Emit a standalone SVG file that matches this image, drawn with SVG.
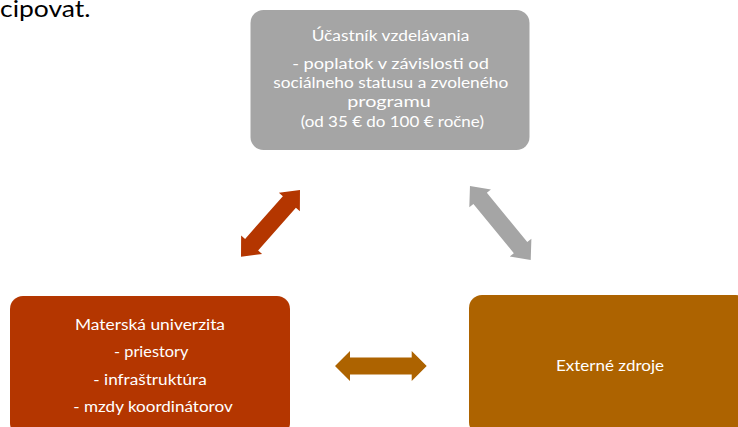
<svg xmlns="http://www.w3.org/2000/svg" width="738" height="427" viewBox="0 0 738 427">
  <style>
    .box-gray { fill: #a5a5a5; }
    .box-red { fill: #b43600; }
    .box-brown { fill: #ad6300; }
    .label { font-family: Lato, "Open Sans", "Liberation Sans", sans-serif; font-size: 15.5px; fill: #ffffff; text-anchor: middle; }
    .para { font-family: Lato, "Open Sans", "Liberation Sans", sans-serif; font-size: 24px; fill: #000000; }
  </style>
  <rect width="738" height="427" fill="#ffffff"/>
  <text class="para" x="0" y="16.7" textLength="90.5" lengthAdjust="spacingAndGlyphs">cipovat.</text>

  <g id="connectors">
    <polygon fill="#b43600" transform="translate(270.5 223.35) rotate(-48.5)" points="-44.5,0 -28.5,-14 -28.5,-8.7 28.5,-8.7 28.5,-14 44.5,0 28.5,14 28.5,8.7 -28.5,8.7 -28.5,14"/>
    <polygon fill="#a5a5a5" transform="translate(500.35 223) rotate(50.6)" points="-47.85,0 -31.85,-14 -31.85,-8.7 31.85,-8.7 31.85,-14 47.85,0 31.85,14 31.85,8.7 -31.85,8.7 -31.85,14"/>
    <polygon fill="#ad6300" transform="translate(380.85 366)" points="-45.85,0 -30.85,-15 -30.85,-8.5 30.85,-8.5 30.85,-15 45.85,0 30.85,15 30.85,8.5 -30.85,8.5 -30.85,15"/>
  </g>

  <g id="node-ucastnik">
    <rect class="box-gray" x="250.5" y="10" width="279" height="140" rx="13" ry="13"/>
    <text class="label" x="390.5" y="40.7" textLength="157.6" lengthAdjust="spacingAndGlyphs">Účastník vzdelávania</text>
    <text class="label" x="390.5" y="69.3" textLength="196.7" lengthAdjust="spacingAndGlyphs">- poplatok v závislosti od</text>
    <text class="label" x="390.8" y="88.3" textLength="235" lengthAdjust="spacingAndGlyphs">sociálneho statusu a zvoleného</text>
    <text class="label" x="389" y="107.3" textLength="83.4" lengthAdjust="spacingAndGlyphs">programu</text>
    <text class="label" x="392.3" y="126.7" textLength="183.3" lengthAdjust="spacingAndGlyphs">(od 35 € do 100 € ročne)</text>
  </g>

  <g id="node-univerzita">
    <rect class="box-red" x="10" y="296" width="280" height="140" rx="13" ry="13"/>
    <text class="label" x="150" y="330" textLength="150" lengthAdjust="spacingAndGlyphs">Materská univerzita</text>
    <text class="label" x="151.2" y="356.7" textLength="74.3" lengthAdjust="spacingAndGlyphs">- priestory</text>
    <text class="label" x="150" y="385" textLength="113.4" lengthAdjust="spacingAndGlyphs">- infraštruktúra</text>
    <text class="label" x="153" y="411.7" textLength="159.4" lengthAdjust="spacingAndGlyphs">- mzdy koordinátorov</text>
  </g>

  <g id="node-externe">
    <rect class="box-brown" x="469" y="295" width="280" height="140" rx="13" ry="13"/>
    <text class="label" x="610" y="370.7" textLength="108" lengthAdjust="spacingAndGlyphs">Externé zdroje</text>
  </g>
</svg>
